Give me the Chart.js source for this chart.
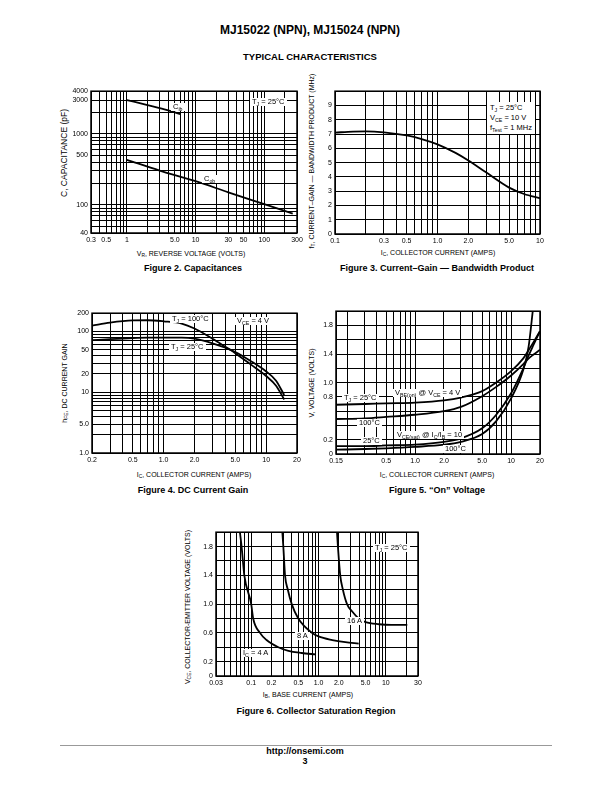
<!DOCTYPE html>
<html>
<head>
<meta charset="utf-8">
<script src="https://cdn.jsdelivr.net/npm/chart.js@4.4.1/dist/chart.umd.min.js"></script>
<style>
body { margin: 0; width: 612px; height: 792px; position: relative; overflow: hidden; background: #fff; color: #000; font-family: "Liberation Sans", Arial, Helvetica, sans-serif; }
canvas { position: absolute; }
.t { position: absolute; white-space: nowrap; line-height: 1; transform: translate(-50%, -50%); }
.hd { font-weight: bold; }
.cap { font-weight: bold; font-size: 9px; }
.xt { font-size: 7px; }
.yt { font-size: 7px; transform: translate(-50%, -50%) rotate(-90deg); }
.lab { position: absolute; z-index: 2; white-space: nowrap; background: #fff; font-size: 7.5px; line-height: 8px; padding: 0 2px; transform: translateY(-50%); }
.box { position: absolute; z-index: 2; background: #fff; font-size: 7.5px; line-height: 10px; padding: 1px 3px; white-space: nowrap; }
sub { font-size: 70%; vertical-align: -0.3em; line-height: 0; }
.rule { position: absolute; left: 60px; top: 745px; width: 492px; height: 1px; background: #999; }
</style>
</head>
<body>

<div class="t hd" style="left:310px;top:30px;font-size:12px">MJ15022 (NPN), MJ15024 (NPN)</div>
<div class="t hd" style="left:310px;top:57px;font-size:9.5px">TYPICAL CHARACTERISTICS</div>

<!-- axis titles -->
<div class="t yt" style="left:64px;top:153px;font-size:8.5px">C, CAPACITANCE (pF)</div>
<div class="t xt" style="left:191px;top:253px">V<sub>R</sub>, REVERSE VOLTAGE (VOLTS)</div>
<div class="t yt" style="left:311px;top:161px">f<sub>T</sub>, CURRENT–GAIN — BANDWIDTH PRODUCT (MHz)</div>
<div class="t xt" style="left:438px;top:252px">I<sub>C</sub>, COLLECTOR CURRENT (AMPS)</div>
<div class="t yt" style="left:64px;top:383px">h<sub>FE</sub>, DC CURRENT GAIN</div>
<div class="t xt" style="left:194px;top:474px">I<sub>C</sub>, COLLECTOR CURRENT (AMPS)</div>
<div class="t yt" style="left:311px;top:383px">V, VOLTAGE (VOLTS)</div>
<div class="t xt" style="left:437px;top:474px">I<sub>C</sub>, COLLECTOR CURRENT (AMPS)</div>
<div class="t yt" style="left:187px;top:607px">V<sub>CE</sub>, COLLECTOR-EMITTER VOLTAGE (VOLTS)</div>
<div class="t xt" style="left:308px;top:694px">I<sub>B</sub>, BASE CURRENT (AMPS)</div>

<!-- captions -->
<div class="t cap" style="left:193px;top:268px">Figure 2. Capacitances</div>
<div class="t cap" style="left:437px;top:268px">Figure 3. Current–Gain — Bandwidth Product</div>
<div class="t cap" style="left:193px;top:490px">Figure 4. DC Current Gain</div>
<div class="t cap" style="left:437px;top:490px">Figure 5. “On” Voltage</div>
<div class="t cap" style="left:316px;top:711px">Figure 6. Collector Saturation Region</div>

<!-- labels inside the plots -->
<div class="lab" style="left:171px;top:107px">C<sub>ib</sub></div>
<div class="lab" style="left:202px;top:179px">C<sub>ob</sub></div>
<div class="lab" style="left:250px;top:102px">T<sub>J</sub> = 25°C</div>
<div class="box" style="left:487px;top:102px">T<sub>J</sub> = 25°C<br>V<sub>CE</sub> = 10 V<br>f<sub>Test</sub> = 1 MHz</div>
<div class="lab" style="left:170px;top:319px">T<sub>J</sub> = 100°C</div>
<div class="lab" style="left:235px;top:321px">V<sub>CE</sub> = 4 V</div>
<div class="lab" style="left:169px;top:347px">T<sub>J</sub> = 25°C</div>
<div class="lab" style="left:342px;top:398px">T<sub>J</sub> = 25°C</div>
<div class="lab" style="left:393px;top:393px">V<sub>BE(on)</sub> @ V<sub>CE</sub> = 4 V</div>
<div class="lab" style="left:357px;top:423px">100°C</div>
<div class="lab" style="left:395px;top:435px">V<sub>CE(sat)</sub> @ I<sub>C</sub>/I<sub>B</sub> = 10</div>
<div class="lab" style="left:361px;top:441px">25°C</div>
<div class="lab" style="left:443px;top:449px">100°C</div>
<div class="lab" style="left:373px;top:548px">T<sub>J</sub> = 25°C</div>
<div class="lab" style="left:345px;top:621px">16 A</div>
<div class="lab" style="left:295px;top:636px">8 A</div>
<div class="lab" style="left:241px;top:653px">I<sub>C</sub> = 4 A</div>

<div class="rule"></div>
<div class="t hd" style="left:305px;top:751px;font-size:9px">http://onsemi.com</div>
<div class="t hd" style="left:305px;top:761px;font-size:9px">3</div>

<script>
// Figure 2 - capacitances
const capCibVolts = [1, 2, 4, 6];
const capCib = [3000, 2550, 2150, 1900];
const capCobVolts = [1, 3, 10, 30, 100, 260];
const capCob = [430, 304, 215, 150, 102, 75];
const capXTicks = [0.3, 0.5, 1, 5, 10, 30, 50, 100, 300];
const capXLabels = ['0.3', '0.5', '1', '5.0', '10', '30', '50', '100', '300'];
const capYTicks = [40, 100, 500, 1000, 3000, 4000];
const capYLabels = ['40', '100', '500', '1000', '3000', '4000'];

// Figure 3 - current-gain bandwidth product
const ftCurrent = [0.1, 0.15, 0.2, 0.3, 0.5, 0.7, 1, 1.5, 2, 3, 5, 7, 10];
const ftMHz = [7.1, 7.17, 7.19, 7.12, 6.9, 6.65, 6.28, 5.68, 5.15, 4.3, 3.25, 2.8, 2.5];
const ftXTicks = [0.1, 0.3, 0.5, 1, 2, 5, 10];
const ftXLabels = ['0.1', '0.3', '0.5', '1.0', '2.0', '5.0', '10'];
const ftYTicks = [0, 1, 2, 3, 4, 5, 6, 7, 8, 9];
const ftYLabels = ['0', '1', '2', '3', '4', '5', '6', '7', '8', '9'];

// Figure 4 - DC current gain
const hfeCurrent = [0.2, 0.3, 0.5, 0.7, 1, 1.5, 2, 3, 4, 5, 7, 10, 12.5, 15];
const hfe25 = [72, 75, 78, 79, 79, 79, 76, 64, 54, 46, 33, 22, 15.5, 9.0];
const hfe100 = [125, 140, 152, 153, 147, 135, 112, 76, 56, 44, 29, 18.5, 12.8, 7.6];
const hfeXTicks = [0.2, 0.5, 1, 2, 5, 10, 20];
const hfeXLabels = ['0.2', '0.5', '1.0', '2.0', '5.0', '10', '20'];
const hfeYTicks = [1, 3, 10, 20, 50, 100, 200];
const hfeYLabels = ['1.0', '5.0', '10', '20', '50', '100', '200'];

// Figure 5 - "on" voltages
const onCurrent = [0.15, 0.3, 0.5, 1, 2, 3, 5, 7, 10, 13.4, 15, 17, 20];
const vbe25 = [0.69, 0.70, 0.71, 0.72, 0.75, 0.79, 0.88, 1.0, 1.16, 1.34, 1.44, 1.56, 1.72];
const vbe100 = [0.49, 0.50, 0.52, 0.55, 0.60, 0.66, 0.81, 0.94, 1.10, 1.26, 1.33, 1.39, 1.46];
const vceSat25 = [0.11, 0.11, 0.12, 0.13, 0.17, 0.22, 0.36, 0.55, 0.85, 1.2, 1.36, 1.52, 1.72];
const vceSat100Current = [0.15, 0.3, 0.5, 1, 2, 3, 5, 7, 10, 13.4, 15.2, 17];
const vceSat100 = [0.06, 0.07, 0.08, 0.10, 0.13, 0.17, 0.28, 0.46, 0.78, 1.18, 1.5, 2.06];
const onXTicks = [0.15, 0.5, 1, 2, 5, 10, 20];
const onXLabels = ['0.15', '0.5', '1.0', '2.0', '5.0', '10', '20'];
const onYTicks = [0, 0.2, 0.8, 1.0, 1.4, 1.8];
const onYLabels = ['0', '0.2', '0.8', '1.0', '1.4', '1.8'];

// Figure 6 - collector saturation region
const sat4Base = [0.068, 0.072, 0.079, 0.1, 0.107, 0.135, 0.169, 0.253, 0.357, 0.56, 0.91];
const sat4V = [2.0, 1.8, 1.4, 1.0, 0.8, 0.6, 0.5, 0.4, 0.35, 0.32, 0.30];
const sat8Base = [0.29, 0.30, 0.318, 0.35, 0.40, 0.5, 0.8, 1.0, 1.6, 2.5, 3.95];
const sat8V = [2.0, 1.8, 1.4, 1.2, 1.0, 0.8, 0.6, 0.55, 0.5, 0.47, 0.45];
const sat16Base = [1.88, 1.94, 2.1, 2.3, 2.65, 3.14, 3.95, 5.0, 7.9, 12, 20.8];
const sat16V = [2.0, 1.8, 1.4, 1.2, 1.0, 0.9, 0.8, 0.75, 0.72, 0.71, 0.71];
const satXTicks = [0.03, 0.1, 0.2, 0.5, 1, 2, 5, 10, 30];
const satXLabels = ['0.03', '0.1', '0.2', '0.5', '1.0', '2.0', '5.0', '10', '30'];
const satYTicks = [0, 0.2, 0.6, 1.0, 1.4, 1.8];
const satYLabels = ['0', '0.2', '0.6', '1.0', '1.4', '1.8'];

// room around each plot area inside its canvas
const ML = 38, MT = 6, MR = 14, MB = 20;

// grid lines 1..9 per decade, plus the labelled ticks and the ends
function logGrid(min, max, extra) {
    let out = [min, max].concat(extra);
    for (let e = Math.floor(Math.log10(min)); e <= Math.ceil(Math.log10(max)); e++) {
        for (let m = 1; m < 10; m++) {
            const v = +(m * Math.pow(10, e)).toPrecision(6);
            if (v >= min && v <= max) out.push(v);
        }
    }
    return uniq(out);
}

function linGrid(min, max, step, extra) {
    let out = [].concat(extra);
    for (let v = min; v <= max + 1e-9; v += step) out.push(+v.toFixed(6));
    return uniq(out);
}

function uniq(arr) {
    arr.sort((a, b) => a - b);
    return arr.filter((v, i) => i === 0 || Math.abs(v - arr[i - 1]) > 1e-9);
}

function labelFor(v, ticks, labels) {
    const i = ticks.findIndex(t => Math.abs(t - v) <= 1e-6 * Math.max(1, Math.abs(t)));
    return i >= 0 ? labels[i] : '';
}

function axis(type, min, max, grid, ticks, labels, vertical) {
    return {
        type: type,
        min: min,
        max: max,
        position: vertical ? 'left' : 'bottom',
        afterBuildTicks: s => { s.ticks = grid.map(v => ({ value: v })); },
        afterFit: s => { if (vertical) s.width = ML; else s.height = MB; },
        grid: { color: '#000', lineWidth: 1, drawTicks: false },
        border: { display: false },
        ticks: {
            autoSkip: false,
            maxRotation: 0,
            padding: 3,
            color: '#000',
            font: { family: '"Liberation Sans", Arial, sans-serif', size: 7 },
            callback: v => labelFor(v, ticks, labels)
        }
    };
}

function curve(xs, ys) {
    return {
        data: xs.map((x, i) => ({ x: x, y: ys[i] })),
        borderColor: '#000',
        borderWidth: 1.8,
        pointRadius: 0,
        fill: false,
        cubicInterpolationMode: 'monotone'
    };
}

// heavier frame round the plot area
const framePlugin = {
    id: 'frame',
    afterDraw(chart) {
        const a = chart.chartArea, ctx = chart.ctx;
        ctx.save();
        ctx.strokeStyle = '#000';
        ctx.lineWidth = 1.5;
        ctx.strokeRect(a.left, a.top, a.right - a.left, a.bottom - a.top);
        ctx.restore();
    }
};

// plot: [left, top, width, height] of the plot area on the page
function makeChart(plot, xAxis, yAxis, datasets) {
    const cv = document.createElement('canvas');
    cv.width = plot[2] + ML + MR;
    cv.height = plot[3] + MT + MB;
    cv.style.left = (plot[0] - ML) + 'px';
    cv.style.top = (plot[1] - MT) + 'px';
    document.body.appendChild(cv);
    new Chart(cv.getContext('2d'), {
        type: 'line',
        data: { datasets: datasets },
        options: {
            responsive: false,
            animation: false,
            events: [],
            layout: { padding: { left: 0, top: MT, right: MR, bottom: 0 } },
            plugins: { legend: { display: false }, tooltip: { enabled: false } },
            scales: { x: xAxis, y: yAxis }
        },
        plugins: [framePlugin]
    });
}

makeChart([91, 90, 206, 143],
    axis('logarithmic', 0.3, 300, logGrid(0.3, 300, capXTicks), capXTicks, capXLabels, false),
    axis('logarithmic', 40, 4000, logGrid(40, 4000, capYTicks), capYTicks, capYLabels, true),
    [curve(capCibVolts, capCib), curve(capCobVolts, capCob)]);

makeChart([335, 90, 205, 144],
    axis('logarithmic', 0.1, 10, logGrid(0.1, 10, ftXTicks), ftXTicks, ftXLabels, false),
    axis('linear', 0, 10, linGrid(0, 10, 1, ftYTicks), ftYTicks, ftYLabels, true),
    [curve(ftCurrent, ftMHz)]);

makeChart([92, 312, 205, 141],
    axis('logarithmic', 0.2, 20, logGrid(0.2, 20, hfeXTicks), hfeXTicks, hfeXLabels, false),
    axis('logarithmic', 1, 200, logGrid(1, 200, hfeYTicks), hfeYTicks, hfeYLabels, true),
    [curve(hfeCurrent, hfe100), curve(hfeCurrent, hfe25)]);

makeChart([336, 310, 204, 144],
    axis('logarithmic', 0.15, 20, logGrid(0.15, 20, onXTicks), onXTicks, onXLabels, false),
    axis('linear', 0, 2, linGrid(0, 2, 0.2, onYTicks), onYTicks, onYLabels, true),
    [curve(onCurrent, vbe25), curve(onCurrent, vbe100),
     curve(onCurrent, vceSat25), curve(vceSat100Current, vceSat100)]);

makeChart([216, 531, 202, 145],
    axis('logarithmic', 0.03, 30, logGrid(0.03, 30, satXTicks), satXTicks, satXLabels, false),
    axis('linear', 0, 2, linGrid(0, 2, 0.2, satYTicks), satYTicks, satYLabels, true),
    [curve(sat4Base, sat4V), curve(sat8Base, sat8V), curve(sat16Base, sat16V)]);
</script>
</body>
</html>
